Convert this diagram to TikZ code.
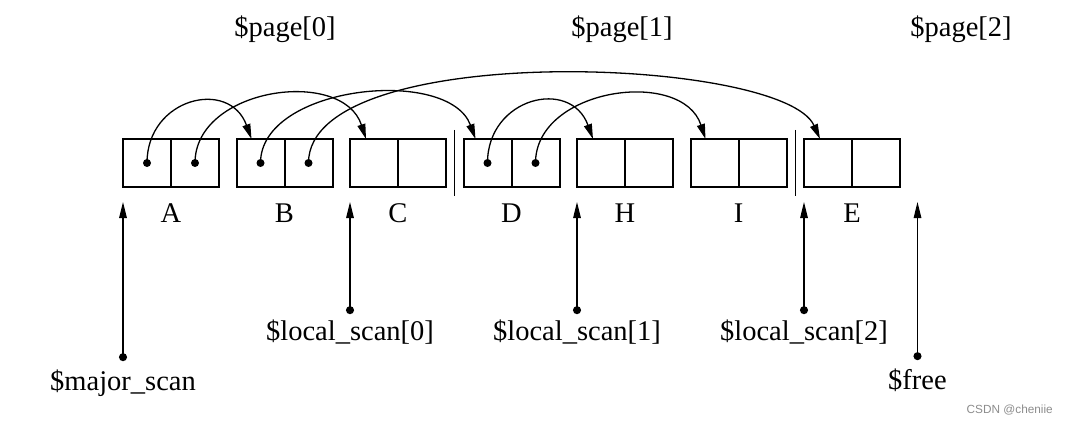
\documentclass[tikz,border=0pt]{standalone}
\usepackage{fontspec}
\setmainfont{Liberation Serif}
\newfontfamily\wmfont{Liberation Sans}
\usetikzlibrary{arrows.meta,calc,positioning}

\tikzset{
  cell/.style={draw, line width=2pt, minimum width=48pt, minimum height=48pt, inner sep=0pt, outer sep=0pt},
  lbl/.style={font=\fontsize{28.5}{34}\selectfont, inner sep=0pt},
  link/.style={line width=1.3pt, -{Triangle[length=15pt,width=8pt]}},
  ptr/.style={line width=1.3pt, {Circle[length=8pt]}-{Triangle[length=16pt,width=7.5pt]}},
  pagesep/.style={line width=1.3pt},
  wm/.style={font=\wmfont\fontsize{11.8}{14}\selectfont, text=black!45, inner sep=0pt},
}

\begin{document}
\begin{tikzpicture}[x=1pt,y=1pt]
  \useasboundingbox (0,0) rectangle (1069,424);

  % the seven cells, two halves each, with their names below
  \foreach \nm [count=\i from 0] in {A,B,C,D,H,I,E}{
    \node[cell] (\nm-l) at ({147+113.5*\i},261) {};
    \node[cell, right=0pt of \nm-l] (\nm-r) {};
    \node[lbl, anchor=base] (\nm) at ([yshift=-35pt]\nm-l.south east) {\nm};
  }

  % page boundaries
  \draw[pagesep] ($(C-r.east)!.5!(D-l.west)$) +(0,33) -- +(0,-33);
  \draw[pagesep] ($(I-r.east)!.5!(E-l.west)$) +(0,33) -- +(0,-33);

  \node[lbl, anchor=base] (page0) at (285,387) {\$page[0]};
  \node[lbl, anchor=base] (page1) at (622,387) {\$page[1]};
  \node[lbl, anchor=base] (page2) at (961,387) {\$page[2]};

  % forwarding pointers
  \foreach \c in {A-l,A-r,B-l,B-r,D-l,D-r} \fill (\c) circle (4pt);
  \draw[link] (A-l.center) to[out=90,in=110,looseness=1.55] ([xshift=15pt]B-l.north west);
  \draw[link] (A-r.center) to[out=90,in=108,looseness=1.12] ([xshift=16pt]C-l.north west);
  \draw[link] (B-l.center) to[out=90,in=110,looseness=0.92] ([xshift=12pt]D-l.north west);
  \draw[link] (B-r.center) to[out=90,in=114,out looseness=0.62,in looseness=0.45] ([xshift=16pt]E-l.north west);
  \draw[link] (D-l.center) to[out=90,in=110,looseness=1.55] ([xshift=16pt]H-l.north west);
  \draw[link] (D-r.center) to[out=90,in=108,looseness=1.12] ([xshift=15pt]I-l.north west);

  % scan pointers
  \node[lbl, anchor=base] (major) at (123,34) {\$major\_scan};
  \node[lbl, anchor=base] (lscan0) at (350,84) {\$local\_scan[0]};
  \node[lbl, anchor=base] (lscan1) at (577,84) {\$local\_scan[1]};
  \node[lbl, anchor=base] (lscan2) at (804,84) {\$local\_scan[2]};
  \node[lbl, anchor=base] (free) at (917.5,35) {\$free};
  \coordinate (next) at ([xshift=113.5pt]E-l.south west);

  \draw[ptr] ([yshift=8pt]major.north) -- ([yshift=-15pt]A-l.south west);
  \draw[ptr] ([yshift=5pt]lscan0.north) -- ([yshift=-15pt]C-l.south west);
  \draw[ptr] ([yshift=5pt]lscan1.north) -- ([yshift=-15pt]H-l.south west);
  \draw[ptr] ([yshift=5pt]lscan2.north) -- ([yshift=-15pt]E-l.south west);
  \draw[ptr] ([yshift=8pt]free.north) -- ([yshift=-15pt]next);

  \node[wm, anchor=base east] (mark) at (1053,11) {CSDN @cheniie};
\end{tikzpicture}
\end{document}
